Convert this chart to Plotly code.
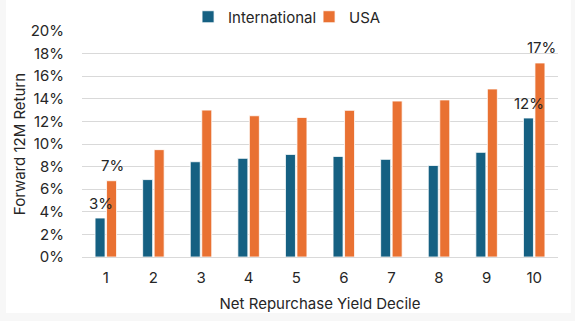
import plotly.graph_objects as go

deciles = ["1", "2", "3", "4", "5", "6", "7", "8", "9", "10"]
international = [3.45, 6.85, 8.43, 8.73, 9.08, 8.9, 8.64, 8.1, 9.26, 12.3]
usa = [6.75, 9.5, 13.0, 12.5, 12.35, 12.98, 13.8, 13.9, 14.87, 17.17]
intl_labels = ["3%", "", "", "", "", "", "", "", "", "12%"]
usa_labels = ["7%", "", "", "", "", "", "", "", "", "17%"]

BLUE = "#156082"
ORANGE = "#E97132"
FONT = "Inter"
TXT = "#262626"
FS = 15

fig = go.Figure()
fig.add_trace(go.Bar(name="International", x=deciles, y=international,
                     marker=dict(color=BLUE, line=dict(color="white", width=0.8))))
fig.add_trace(go.Bar(name="USA", x=deciles, y=usa,
                     marker=dict(color=ORANGE, line=dict(color="white", width=0.8))))

for ys, labels, dx in [(international, intl_labels, -6), (usa, usa_labels, 6)]:
    for i, (yv, lab) in enumerate(zip(ys, labels)):
        if lab:
            fig.add_annotation(x=i, y=yv, xref="x", yref="y", text=lab, showarrow=False,
                               xshift=dx + 1, yshift=15,
                               font=dict(family=FONT, size=FS, color=TXT))

fig.add_shape(type="rect", xref="paper", yref="paper", x0=-0.1597, x1=1.027, y0=-0.248, y1=1.2,
              fillcolor="white", line=dict(width=0), layer="below")

fig.update_layout(
    width=575, height=321,
    margin=dict(l=82, r=17, t=31, b=64, autoexpand=False),
    paper_bgcolor="#f7f7f7", plot_bgcolor="white",
    barmode="group", bargap=0.517, bargroupgap=0.13,
    font=dict(family=FONT, size=FS, color=TXT),
    showlegend=True,
    legend=dict(orientation="h", x=0.477, xanchor="center", y=1.062, yanchor="middle",
                font=dict(family=FONT, size=FS, color=TXT), bgcolor="rgba(0,0,0,0)",
                traceorder="normal", entrywidth=76, entrywidthmode="pixels", itemwidth=30),
)
fig.update_yaxes(range=[0, 20], dtick=2, ticksuffix="%", showgrid=True, gridcolor="#d9d9d9",
                 gridwidth=1, zeroline=False, showline=False, ticks="", ticklabelstandoff=17,
                 title=dict(text="Forward 12M Return", font=dict(family=FONT, size=FS, color=TXT), standoff=1),
                 tickfont=dict(family=FONT, size=FS, color=TXT))
fig.update_xaxes(range=[-0.5, 9.5], showgrid=False, zeroline=False, showline=True, linecolor="#d9d9d9",
                 linewidth=1, ticks="outside", ticklen=0, tickcolor="white", ticklabelstandoff=7,
                 title=dict(text="Net Repurchase Yield Decile", font=dict(family=FONT, size=FS, color=TXT), standoff=12),
                 tickfont=dict(family=FONT, size=FS, color=TXT))

fig.write_html("out.html")
